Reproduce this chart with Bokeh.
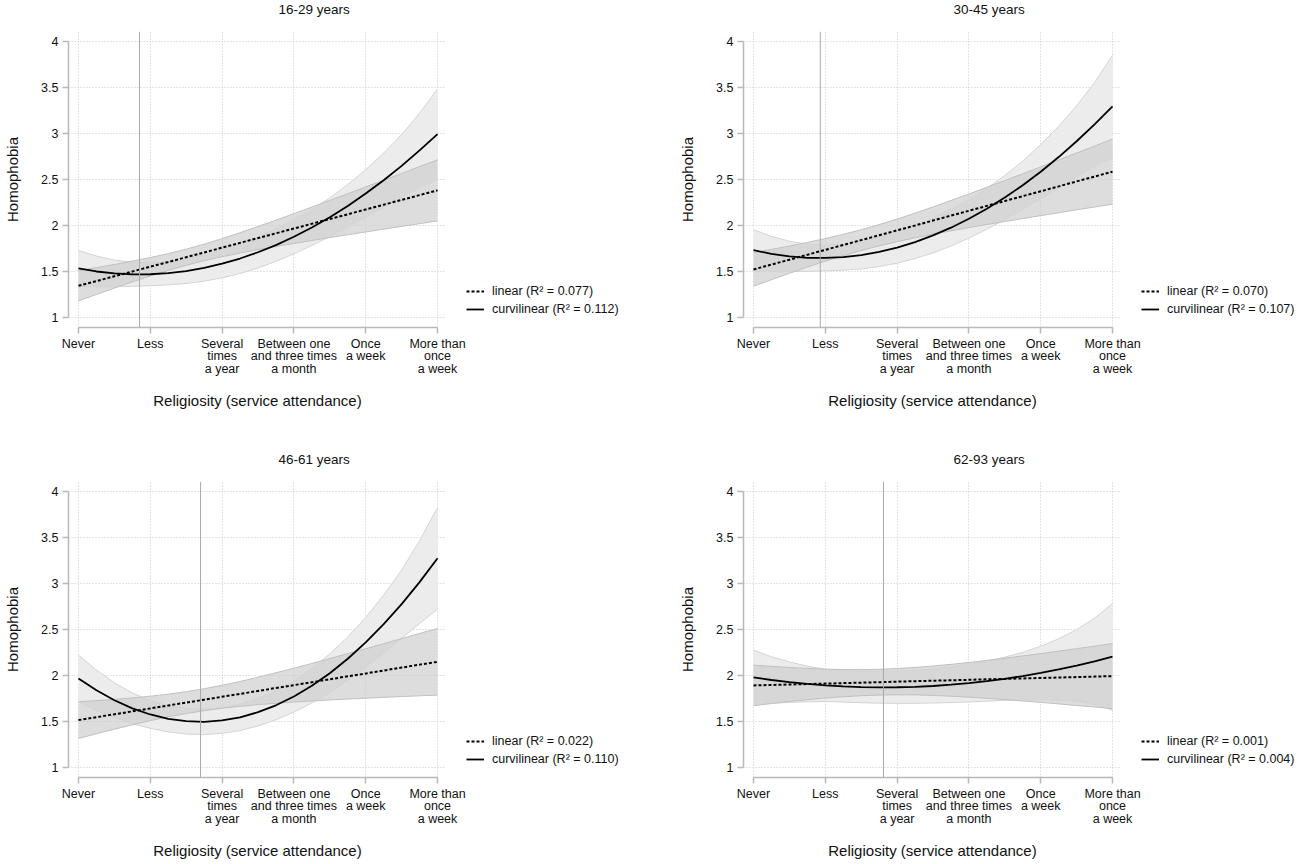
from bokeh.plotting import figure
from bokeh.models import (Range1d, FixedTicker, NumeralTickFormatter, Span, Legend,
                          LegendItem, Title, Spacer)
from bokeh.layouts import row, column
from bokeh.embed import file_html
from bokeh.resources import INLINE

FONT = "Liberation Sans"

# ---------------- data ----------------
x_ticks = [1, 2, 3, 4, 5, 6]
x_tick_labels = ["Never", "Less", "Several\ntimes\na year",
                 "Between one\nand three times\na month", "Once\na week",
                 "More than\nonce\na week"]
y_ticks = [1, 1.5, 2, 2.5, 3, 3.5, 4]

xs = [1.0, 1.25, 1.5, 1.75, 2.0, 2.25, 2.5, 2.75, 3.0, 3.25, 3.5,
      3.75, 4.0, 4.25, 4.5, 4.75, 5.0, 5.25, 5.5, 5.75, 6.0]

panel_titles = ["16-29 years", "30-45 years", "46-61 years", "62-93 years"]
r2_linear = ["0.077", "0.070", "0.022", "0.001"]
r2_curvilinear = ["0.112", "0.107", "0.110", "0.004"]
turning_points = [1.85, 1.93, 2.70, 2.81]

# 16-29 years
lin_16 = [1.344, 1.396, 1.448, 1.500, 1.552, 1.603, 1.655, 1.707, 1.759, 1.811, 1.863,
          1.915, 1.967, 2.019, 2.071, 2.122, 2.174, 2.226, 2.278, 2.330, 2.382]
lin_hi_16 = [1.509, 1.542, 1.576, 1.613, 1.652, 1.694, 1.743, 1.797, 1.857, 1.922, 1.989,
             2.058, 2.129, 2.201, 2.273, 2.345, 2.419, 2.492, 2.566, 2.640, 2.714]
lin_lo_16 = [1.179, 1.250, 1.320, 1.387, 1.452, 1.512, 1.567, 1.617, 1.661, 1.700, 1.737,
             1.772, 1.805, 1.837, 1.869, 1.899, 1.929, 1.960, 1.990, 2.020, 2.050]
quad_16 = [1.533, 1.500, 1.479, 1.469, 1.470, 1.482, 1.505, 1.539, 1.585, 1.641, 1.709,
           1.787, 1.877, 1.978, 2.090, 2.213, 2.347, 2.492, 2.648, 2.816, 2.994]
quad_hi_16 = [1.728, 1.668, 1.624, 1.600, 1.595, 1.609, 1.640, 1.684, 1.740, 1.804, 1.879,
              1.964, 2.062, 2.174, 2.300, 2.445, 2.607, 2.787, 2.988, 3.221, 3.484]
quad_lo_16 = [1.338, 1.332, 1.334, 1.338, 1.345, 1.355, 1.370, 1.394, 1.430, 1.478, 1.539,
              1.610, 1.692, 1.782, 1.880, 1.981, 2.087, 2.197, 2.308, 2.411, 2.504]

# 30-45 years
lin_30 = [1.522, 1.575, 1.628, 1.682, 1.735, 1.788, 1.841, 1.894, 1.947, 2.000, 2.054,
          2.107, 2.160, 2.213, 2.266, 2.319, 2.372, 2.425, 2.479, 2.532, 2.585]
lin_hi_30 = [1.705, 1.740, 1.776, 1.816, 1.858, 1.904, 1.954, 2.010, 2.070, 2.134, 2.202,
             2.272, 2.343, 2.415, 2.489, 2.563, 2.637, 2.712, 2.788, 2.863, 2.939]
lin_lo_30 = [1.339, 1.410, 1.480, 1.548, 1.612, 1.672, 1.728, 1.778, 1.824, 1.866, 1.906,
             1.942, 1.977, 2.011, 2.043, 2.075, 2.107, 2.138, 2.170, 2.201, 2.231]
quad_30 = [1.732, 1.692, 1.664, 1.649, 1.647, 1.656, 1.678, 1.713, 1.760, 1.820, 1.892,
           1.976, 2.073, 2.182, 2.304, 2.438, 2.585, 2.744, 2.916, 3.099, 3.296]
quad_hi_30 = [1.954, 1.882, 1.829, 1.797, 1.787, 1.798, 1.828, 1.873, 1.930, 2.000, 2.082,
              2.176, 2.283, 2.404, 2.544, 2.701, 2.880, 3.079, 3.301, 3.554, 3.851]
quad_lo_30 = [1.510, 1.502, 1.499, 1.501, 1.507, 1.514, 1.528, 1.553, 1.590, 1.640, 1.702,
              1.776, 1.863, 1.960, 2.064, 2.175, 2.290, 2.409, 2.531, 2.644, 2.741]

# 46-61 years
lin_46 = [1.515, 1.547, 1.578, 1.610, 1.642, 1.674, 1.705, 1.737, 1.769, 1.800, 1.832,
          1.864, 1.895, 1.927, 1.959, 1.991, 2.022, 2.054, 2.086, 2.118, 2.149]
lin_hi_46 = [1.715, 1.727, 1.740, 1.756, 1.775, 1.797, 1.824, 1.856, 1.894, 1.935, 1.981,
             2.030, 2.079, 2.131, 2.184, 2.238, 2.291, 2.346, 2.401, 2.457, 2.512]
lin_lo_46 = [1.315, 1.367, 1.416, 1.464, 1.509, 1.551, 1.586, 1.618, 1.644, 1.665, 1.683,
             1.698, 1.711, 1.723, 1.734, 1.744, 1.753, 1.762, 1.771, 1.779, 1.787]
quad_46 = [1.968, 1.839, 1.731, 1.643, 1.576, 1.529, 1.503, 1.496, 1.511, 1.545, 1.601,
           1.676, 1.772, 1.888, 2.025, 2.182, 2.360, 2.558, 2.776, 3.015, 3.274]
quad_hi_46 = [2.222, 2.059, 1.921, 1.810, 1.726, 1.672, 1.643, 1.635, 1.651, 1.689, 1.751,
              1.834, 1.942, 2.075, 2.235, 2.419, 2.630, 2.873, 3.146, 3.465, 3.827]
quad_lo_46 = [1.714, 1.619, 1.541, 1.476, 1.426, 1.386, 1.363, 1.357, 1.371, 1.401, 1.451,
              1.518, 1.602, 1.701, 1.815, 1.945, 2.090, 2.243, 2.406, 2.565, 2.721]

# 62-93 years
lin_62 = [1.892, 1.897, 1.902, 1.907, 1.912, 1.917, 1.922, 1.927, 1.933, 1.938, 1.943,
          1.948, 1.953, 1.958, 1.963, 1.968, 1.973, 1.978, 1.983, 1.988, 1.993]
lin_hi_62 = [2.113, 2.099, 2.087, 2.077, 2.069, 2.065, 2.064, 2.067, 2.076, 2.087, 2.103,
             2.121, 2.142, 2.164, 2.188, 2.213, 2.238, 2.265, 2.292, 2.319, 2.347]
lin_lo_62 = [1.671, 1.695, 1.717, 1.737, 1.755, 1.769, 1.780, 1.787, 1.790, 1.789, 1.783,
             1.775, 1.764, 1.752, 1.738, 1.723, 1.708, 1.691, 1.674, 1.657, 1.639]
quad_62 = [1.979, 1.951, 1.928, 1.908, 1.893, 1.881, 1.874, 1.871, 1.872, 1.877, 1.886,
           1.900, 1.917, 1.939, 1.964, 1.994, 2.028, 2.066, 2.108, 2.154, 2.204]
quad_hi_62 = [2.275, 2.204, 2.148, 2.102, 2.068, 2.051, 2.044, 2.043, 2.047, 2.057, 2.071,
              2.094, 2.122, 2.157, 2.199, 2.252, 2.318, 2.399, 2.498, 2.624, 2.784]
quad_lo_62 = [1.683, 1.698, 1.708, 1.714, 1.718, 1.711, 1.704, 1.699, 1.697, 1.697, 1.701,
              1.706, 1.712, 1.721, 1.729, 1.736, 1.738, 1.733, 1.718, 1.684, 1.624]

panels = [
    (lin_16, lin_lo_16, lin_hi_16, quad_16, quad_lo_16, quad_hi_16),
    (lin_30, lin_lo_30, lin_hi_30, quad_30, quad_lo_30, quad_hi_30),
    (lin_46, lin_lo_46, lin_hi_46, quad_46, quad_lo_46, quad_hi_46),
    (lin_62, lin_lo_62, lin_hi_62, quad_62, quad_lo_62, quad_hi_62),
]

# ---------------- style / layout ----------------
X0, X1 = 0.861, 6.125
Y0, Y1 = 0.891, 4.109
FW, FH = 378, 296
TOP, BOTTOM = 31, 85
RIGHT_PAD = 20          # room for the last x tick label
LEG_W = 154             # width of the legend strip next to each panel
AXIS_COL = "#b9b9b9"
TXT = "#111111"
LIN_STYLE = dict(line_color="black", line_width=2, line_dash="3 2")
QUAD_STYLE = dict(line_color="black", line_width=1.8)


def make_panel(i):
    lin, lin_lo, lin_hi, quad, quad_lo, quad_hi = panels[i]
    p = figure(frame_width=FW, frame_height=FH, title=None,
               min_border_left=0, min_border_right=RIGHT_PAD,
               min_border_top=0, min_border_bottom=0,
               x_range=Range1d(X0, X1), y_range=Range1d(Y0, Y1),
               output_backend="svg", toolbar_location=None)
    p.outline_line_color = None
    p.background_fill_color = "white"
    p.border_fill_color = "white"

    # confidence bands
    p.varea(x=xs, y1=quad_lo, y2=quad_hi, fill_color="#ececec", fill_alpha=1.0)
    p.varea(x=xs, y1=lin_lo, y2=lin_hi, fill_color="#cdcdcd", fill_alpha=0.68)
    for ys in (quad_lo, quad_hi):
        p.line(xs, ys, line_color="#d4d4d4", line_width=1)
    for ys in (lin_lo, lin_hi):
        p.line(xs, ys, line_color="#c0c0c0", line_width=1)

    p.line(xs, lin, **LIN_STYLE)
    p.line(xs, quad, **QUAD_STYLE)

    p.add_layout(Span(location=turning_points[i], dimension="height",
                      line_color="#a9a9a9", line_width=1))

    # axes
    p.xaxis.ticker = FixedTicker(ticks=x_ticks)
    p.xaxis.major_label_overrides = {t: lab for t, lab in zip(x_ticks, x_tick_labels)}
    p.yaxis.ticker = FixedTicker(ticks=y_ticks)
    p.yaxis.formatter = NumeralTickFormatter(format="0.[0]")
    p.xaxis.bounds = (x_ticks[0], x_ticks[-1])
    p.yaxis.bounds = (y_ticks[0], y_ticks[-1])
    for ax in (p.xaxis, p.yaxis):
        ax.axis_line_color = AXIS_COL
        ax.axis_line_width = 1.5
        ax.major_tick_line_color = AXIS_COL
        ax.major_tick_line_width = 1.5
        ax.major_tick_in = 0
        ax.major_tick_out = 6
        ax.minor_tick_line_color = None
        ax.major_label_text_font = FONT
        ax.major_label_text_font_size = "12.5px"
        ax.major_label_text_color = TXT
        ax.axis_label_text_font = FONT
        ax.axis_label_text_font_size = "15px"
        ax.axis_label_text_font_style = "normal"
        ax.axis_label_text_color = TXT
    p.xaxis.major_label_standoff = 3
    p.yaxis.major_label_standoff = 4
    p.xaxis.major_label_text_line_height = 0.9
    p.xaxis.axis_label = "Religiosity (service attendance)"
    p.xaxis.axis_label_standoff = 13
    p.yaxis.axis_label = "Homophobia"
    p.yaxis.axis_label_standoff = 17

    p.grid.grid_line_color = "#c9c9c9"
    p.grid.grid_line_dash = "1 2"
    p.grid.grid_line_width = 1

    # titles: an empty spacer title next to the frame, the real title above it
    p.add_layout(Title(text=" ", text_font_size="8px", standoff=2), "above")
    p.add_layout(Title(text=panel_titles[i], align="left", offset=210,
                       vertical_align="top", standoff=0,
                       text_font=FONT, text_font_size="13.5px",
                       text_font_style="normal", text_color=TXT), "above")
    return p


def make_legend(i, width):
    # a small axis-less figure that only hosts the legend, to the right of the panel;
    # its ranges are far from the data so the two series themselves stay out of view
    lin, _, _, quad, _, _ = panels[i]
    q = figure(frame_width=width, frame_height=FH, title=None,
               min_border_left=0, min_border_right=0,
               min_border_top=TOP, min_border_bottom=BOTTOM,
               x_axis_type=None, y_axis_type=None,
               x_range=Range1d(100, 101), y_range=Range1d(100, 101),
               output_backend="svg", toolbar_location=None)
    q.outline_line_color = None
    q.background_fill_color = "white"
    q.border_fill_color = "white"
    r_lin = q.line(xs, lin, **LIN_STYLE)
    r_quad = q.line(xs, quad, **QUAD_STYLE)
    legend = Legend(items=[
        LegendItem(label="linear (R\u00b2 = %s)" % r2_linear[i], renderers=[r_lin]),
        LegendItem(label="curvilinear (R\u00b2 = %s)" % r2_curvilinear[i], renderers=[r_quad]),
    ], location=(0, 9))
    legend.margin = 0
    legend.padding = 0
    legend.spacing = 0
    legend.glyph_width = 18
    legend.glyph_height = 18
    legend.label_height = 18
    legend.label_width = 110
    legend.label_standoff = 8
    legend.label_text_font = FONT
    legend.label_text_font_size = "12.5px"
    legend.label_text_color = TXT
    legend.border_line_color = None
    legend.background_fill_alpha = 0
    q.add_layout(legend, "center")
    return q


p1, p2, p3, p4 = (make_panel(k) for k in range(4))
l1, l2, l3, l4 = (make_legend(k, LEG_W) for k in range(4))

row1 = row(Spacer(width=1, height=10), p1, l1, Spacer(width=56, height=10), p2, l2)
row2 = row(Spacer(width=1, height=10), p3, l3, Spacer(width=56, height=10), p4, l4)
layout = column(row1, Spacer(width=10, height=38), row2)

open("out.html", "w").write(file_html(layout, INLINE))
